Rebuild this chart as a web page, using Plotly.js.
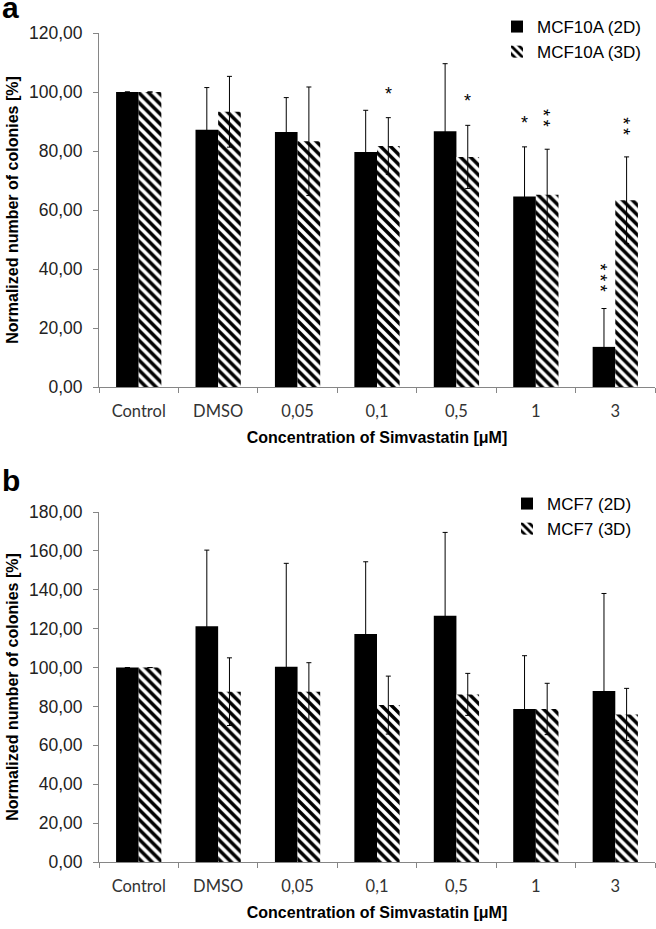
<!DOCTYPE html>
<html>
<head>
<meta charset="utf-8">
<script src="https://cdn.plot.ly/plotly-3.0.1.min.js"></script>
<style>html,body{margin:0;padding:0;background:#fff;}#chart{width:656px;height:929px;}</style>
</head>
<body>
<div id="chart"></div>
<script>
// ---- data ----
const categories = ["Control", "DMSO", "0,05", "0,1", "0,5", "1", "3"];

// Panel a: MCF10A
const a2D = [100, 87.2, 86.4, 79.7, 86.7, 64.6, 13.6];
const a2Derr = [0, 14.3, 11.7, 14.1, 22.9, 16.8, 13.0];
const a3D = [100, 93.3, 83.3, 81.7, 78.0, 65.2, 63.3];
const a3Derr = [0, 12.0, 18.4, 9.6, 10.7, 15.4, 14.7];
const a2Dsig = ["", "", "", "", "", "*", "***"];
const a3Dsig = ["", "", "", "*", "*", "**", "**"];

// Panel b: MCF7
const b2D = [100, 121.3, 100.4, 117.2, 126.6, 78.7, 87.9];
const b2Derr = [0, 39.1, 53.2, 37.2, 42.9, 27.4, 50.2];
const b3D = [100, 87.6, 87.5, 80.7, 86.2, 78.7, 75.9];
const b3Derr = [0, 17.4, 15.0, 14.9, 10.8, 13.2, 13.4];

const names = {a2: "MCF10A (2D)", a3: "MCF10A (3D)", b2: "MCF7 (2D)", b3: "MCF7 (3D)"};
const xTitle = "Concentration of Simvastatin [μM]";
const yTitle = "Normalized number of colonies [%]";

// ---- geometry helpers ----
const W = 656, H = 929, ML = 99, MR = 1;
const PW = W - ML - MR;
const px = x => (x - ML) / PW;
const py = y => (H - y) / H;

const bargap = 0.43;
const catPx = PW / categories.length;
const barOffset = (1 - bargap) / 4 * catPx;

const hatch = {shape: "\\", fgcolor: "#000", bgcolor: "#fff", size: 7, solidity: 0.5};
const errStyle = arr => ({type: "data", array: arr, symmetric: true, visible: true, color: "#000", thickness: 1, width: 2.5});

const traces = [
  {type: "bar", x: categories, y: a2D, name: names.a2, xaxis: "x", yaxis: "y", legend: "legend",
   marker: {color: "#000", line: {width: 0}}, error_y: errStyle(a2Derr)},
  {type: "bar", x: categories, y: a3D, name: names.a3, xaxis: "x", yaxis: "y", legend: "legend",
   marker: {color: "#fff", pattern: hatch, line: {width: 0}}, error_y: errStyle(a3Derr)},
  {type: "bar", x: categories, y: b2D, name: names.b2, xaxis: "x2", yaxis: "y2", legend: "legend2",
   marker: {color: "#000", line: {width: 0}}, error_y: errStyle(b2Derr)},
  {type: "bar", x: categories, y: b3D, name: names.b3, xaxis: "x2", yaxis: "y2", legend: "legend2",
   marker: {color: "#fff", pattern: hatch, line: {width: 0}}, error_y: errStyle(b3Derr)}
];

const tickFontY = {family: "Liberation Sans, Arial, sans-serif", size: 17.5, color: "#222"};
const tickFontX = {family: "Lato, Carlito, Calibri, sans-serif", size: 16.5, color: "#333"};
const titleFont = {family: "Liberation Sans, Arial, sans-serif", size: 16, color: "#000", weight: "bold"};

function xAxis(anchor) {
  return {type: "category", anchor: anchor, domain: [0, 1], showline: true, linecolor: "#868686", linewidth: 1,
    ticks: "outside", tickson: "boundaries", ticklen: 5, tickcolor: "#868686", tickfont: tickFontX,
    ticklabelstandoff: 9,
    showgrid: false, zeroline: false, fixedrange: true,
    title: {text: xTitle, font: titleFont, standoff: 12}};
}
function yAxis(anchor, range, dom) {
  return {anchor: anchor, range: range, domain: dom, dtick: 20, tickformat: ".2f",
    showline: true, linecolor: "#868686", linewidth: 1, ticks: "outside", ticklen: 5, tickcolor: "#868686",
    tickfont: tickFontY, ticklabelstandoff: 7, showgrid: false, zeroline: false, fixedrange: true,
    title: {text: yTitle, font: titleFont, standoff: 6}};
}

const annotations = [
  {text: "<b>a</b>", xref: "paper", yref: "paper", x: px(0), y: py(26), xanchor: "left", yanchor: "bottom",
   showarrow: false, font: {family: "Liberation Sans, Arial, sans-serif", size: 30, color: "#000"}},
  {text: "<b>b</b>", xref: "paper", yref: "paper", x: px(0), y: py(499), xanchor: "left", yanchor: "bottom",
   showarrow: false, font: {family: "Liberation Sans, Arial, sans-serif", size: 30, color: "#000"}}
];

function addStars(sig, vals, errs, side) {
  sig.forEach((s, i) => {
    if (!s) return;
    const rotated = s.length > 1;
    annotations.push({
      text: rotated ? s.split("").join("\u2009") : s,
      // numeric category index (category names "1" and "3" would collide with indices)
      xref: "x", yref: "y", x: i, y: vals[i] + errs[i],
      xanchor: "center", yanchor: "middle",
      xshift: side * barOffset + (rotated ? -4 : 0),
      yshift: rotated ? 31 : 24,
      textangle: rotated ? 90 : 0,
      showarrow: false,
      font: {family: "Liberation Sans, Arial, sans-serif", size: 18, color: "#000"}
    });
  });
}
addStars(a2Dsig, a2D, a2Derr, -1);
addStars(a3Dsig, a3D, a3Derr, 1);

const legendFont = {family: "Liberation Sans, Arial, sans-serif", size: 17, color: "#000"};

const layout = {
  width: W, height: H,
  margin: {l: ML, r: MR, t: 0, b: 0},
  paper_bgcolor: "#fff", plot_bgcolor: "#fff",
  separators: ", ",
  barmode: "group", bargap: bargap, bargroupgap: 0,
  showlegend: true,
  legend: {x: px(497), y: py(9), xanchor: "left", yanchor: "top", font: legendFont,
           bgcolor: "rgba(0,0,0,0)", tracegroupgap: 0, itemwidth: 30},
  legend2: {x: px(507), y: py(486), xanchor: "left", yanchor: "top", font: legendFont,
            bgcolor: "rgba(0,0,0,0)", tracegroupgap: 0, itemwidth: 30},
  xaxis: xAxis("y"),
  yaxis: yAxis("x", [0, 120], [py(387), py(33)]),
  xaxis2: xAxis("y2"),
  yaxis2: yAxis("x2", [0, 180], [py(862), py(512)]),
  annotations: annotations
};

Plotly.newPlot("chart", traces, layout, {displayModeBar: false, staticPlot: true});
</script>
</body>
</html>
